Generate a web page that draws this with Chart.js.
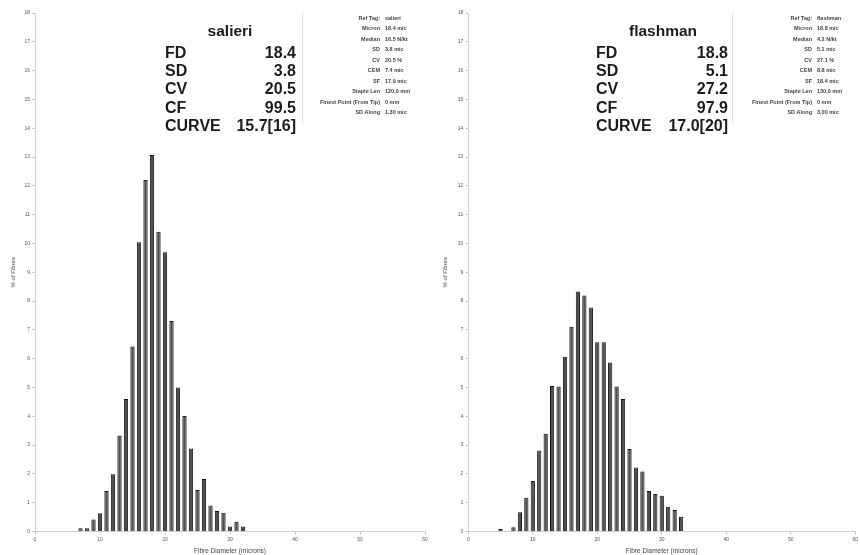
<!DOCTYPE html>
<html>
<head>
<meta charset="utf-8">
<script src="https://cdn.jsdelivr.net/npm/chart.js@4.4.1/dist/chart.umd.min.js"></script>
<style>
html,body{margin:0;padding:0;background:#fff;}
#wrap{position:relative;width:860px;height:555px;overflow:hidden;font-family:"Liberation Sans",Arial,sans-serif;}
.panel{position:absolute;top:0;width:430px;height:555px;}
.panel canvas{position:absolute;left:0;top:0;}
.big{position:absolute;font-weight:bold;font-size:16px;line-height:18px;color:#1c1c1c;white-space:nowrap;}
.name{position:absolute;font-weight:bold;font-size:15.5px;line-height:18px;color:#1c1c1c;white-space:nowrap;transform:translateX(-50%);}
.sm{position:absolute;font-size:5.5px;line-height:7px;font-weight:bold;color:#444;white-space:nowrap;}
.vline{position:absolute;width:1px;background:#dcdcdc;}
</style>
</head>
<body>
<div id="wrap">
  <div class="panel" id="p0" style="left:0px"><canvas id="c0" width="430" height="555"></canvas></div>
  <div class="panel" id="p1" style="left:430px"><canvas id="c1" width="430" height="555"></canvas></div>
</div>
<script>
// ---- data ----
const diameterTicks = [0, 10, 20, 30, 40, 50, 60];
const percentTicks = [0, 1, 2, 3, 4, 5, 6, 7, 8, 9, 10, 11, 12, 13, 14, 15, 16, 17, 18];

const salieriBins = [7, 8, 9, 10, 11, 12, 13, 14, 15, 16, 17, 18, 19, 20, 21, 22, 23, 24, 25, 26, 27, 28, 29, 30, 31, 32];
const salieriPct  = [0.11, 0.11, 0.42, 0.63, 1.41, 1.99, 3.33, 4.60, 6.42, 10.04, 12.20, 13.07, 10.41, 9.69, 7.31, 5.00, 4.01, 2.88, 1.44, 1.82, 0.90, 0.71, 0.65, 0.17, 0.34, 0.17];

const flashmanBins = [5, 6, 7, 8, 9, 10, 11, 12, 13, 14, 15, 16, 17, 18, 19, 20, 21, 22, 23, 24, 25, 26, 27, 28, 29, 30, 31, 32, 33];
const flashmanPct  = [0.09, 0.03, 0.15, 0.67, 1.17, 1.75, 2.81, 3.39, 5.05, 5.03, 6.07, 7.11, 8.33, 8.19, 7.78, 6.57, 6.57, 5.87, 5.03, 4.60, 2.86, 2.22, 2.08, 1.41, 1.30, 1.24, 0.86, 0.75, 0.51];

const statLabels = ["FD", "SD", "CV", "CF", "CURVE"];
const salieriStats  = ["18.4", "3.8", "20.5", "99.5", "15.7[16]"];
const flashmanStats = ["18.8", "5.1", "27.2", "97.9", "17.0[20]"];

const infoLabels = ["Ref Tag:", "Micron", "Median", "SD", "CV", "CEM", "SF", "Staple Len", "Finest Point (From Tip)", "SD Along"];
const salieriInfo  = ["salieri", "18.4 mic", "16.5 N/kt", "3.8 mic", "20.5 %", "7.4 mic", "17.9 mic", "120.0 mm", "0 mm", "1.30 mic"];
const flashmanInfo = ["flashman", "18.8 mic", "4.2 N/kt", "5.1 mic", "27.1 %", "8.8 mic", "18.4 mic", "130.0 mm", "0 mm", "3.00 mic"];

// ---- charts ----
function makeChart(id, bins, pct, axisW, padRight, yTitlePad) {
  return new Chart(document.getElementById(id), {
    type: 'bar',
    data: {
      datasets: [{
        data: bins.map((b, i) => ({ x: b, y: pct[i] })),
        backgroundColor: '#505050',
        borderColor: '#141414',
        borderWidth: 1,
        borderSkipped: 'start',
        barPercentage: 0.66,
        categoryPercentage: 1.0
      }]
    },
    options: {
      responsive: false,
      animation: false,
      devicePixelRatio: 1,
      layout: { padding: { left: 0, right: padRight, top: 13, bottom: 0 } },
      plugins: { legend: { display: false }, tooltip: { enabled: false } },
      scales: {
        x: {
          type: 'linear',
          offset: false,
          min: diameterTicks[0],
          max: diameterTicks[diameterTicks.length - 1],
          afterBuildTicks: s => { s.ticks = diameterTicks.map(v => ({ value: v })); },
          afterFit: s => { s.height = 23.5; },
          grid: { display: true, offset: false, drawOnChartArea: false, tickLength: 3, color: '#c8c8c8' },
          border: { color: '#cfcfcf' },
          ticks: { font: { size: 5, family: 'Liberation Sans' }, color: '#555', padding: 2, maxRotation: 0, autoSkip: false },
          title: { display: true, text: 'Fibre Diameter (microns)', font: { size: 6.5, family: 'Liberation Sans' }, color: '#444', padding: { top: 1, bottom: 0 } }
        },
        y: {
          min: percentTicks[0],
          max: percentTicks[percentTicks.length - 1],
          afterBuildTicks: s => { s.ticks = percentTicks.map(v => ({ value: v })); },
          afterFit: s => { s.width = axisW; },
          grid: { display: true, drawOnChartArea: false, tickLength: 3, color: '#c8c8c8' },
          border: { color: '#cfcfcf' },
          ticks: { font: { size: 5, family: 'Liberation Sans' }, color: '#555', padding: 2, autoSkip: false },
          title: { display: true, text: '% of Fibres', font: { size: 6, family: 'Liberation Sans' }, color: '#444', padding: { top: yTitlePad, bottom: 0 } }
        }
      }
    }
  });
}
makeChart('c0', salieriBins, salieriPct, 35, 5, 9.4);
makeChart('c1', flashmanBins, flashmanPct, 38.3, 1.7, 11.4);

// ---- text overlays ----
function addText(panelId, name, stats, info, cfg) {
  const p = document.getElementById(panelId);
  const t = document.createElement('div');
  t.className = 'name'; t.textContent = name;
  t.style.left = cfg.nameX + 'px'; t.style.top = (31 - 9) + 'px';
  p.appendChild(t);
  statLabels.forEach((lab, i) => {
    const cy = 53 + 18.2 * i;
    const l = document.createElement('div');
    l.className = 'big'; l.textContent = lab;
    l.style.left = cfg.labX + 'px'; l.style.top = (cy - 9) + 'px';
    p.appendChild(l);
    const v = document.createElement('div');
    v.className = 'big'; v.textContent = stats[i];
    v.style.right = (430 - cfg.valR) + 'px'; v.style.top = (cy - 9) + 'px';
    p.appendChild(v);
  });
  infoLabels.forEach((lab, i) => {
    const cy = 18.3 + 10.5 * i;
    const l = document.createElement('div');
    l.className = 'sm'; l.textContent = lab;
    l.style.right = (430 - cfg.infoR) + 'px'; l.style.top = (cy - 3.5) + 'px';
    p.appendChild(l);
    const v = document.createElement('div');
    v.className = 'sm'; v.textContent = info[i];
    v.style.left = (cfg.infoR + 5) + 'px'; v.style.top = (cy - 3.5) + 'px';
    p.appendChild(v);
  });
  const vl = document.createElement('div');
  vl.className = 'vline';
  vl.style.left = cfg.lineX + 'px'; vl.style.top = '13px'; vl.style.height = '110px';
  p.appendChild(vl);
}
addText('p0', 'salieri', salieriStats, salieriInfo, { nameX: 230, labX: 165, valR: 296, infoR: 380, lineX: 302 });
addText('p1', 'flashman', flashmanStats, flashmanInfo, { nameX: 233, labX: 166, valR: 298, infoR: 382, lineX: 302 });
</script>
</body>
</html>
